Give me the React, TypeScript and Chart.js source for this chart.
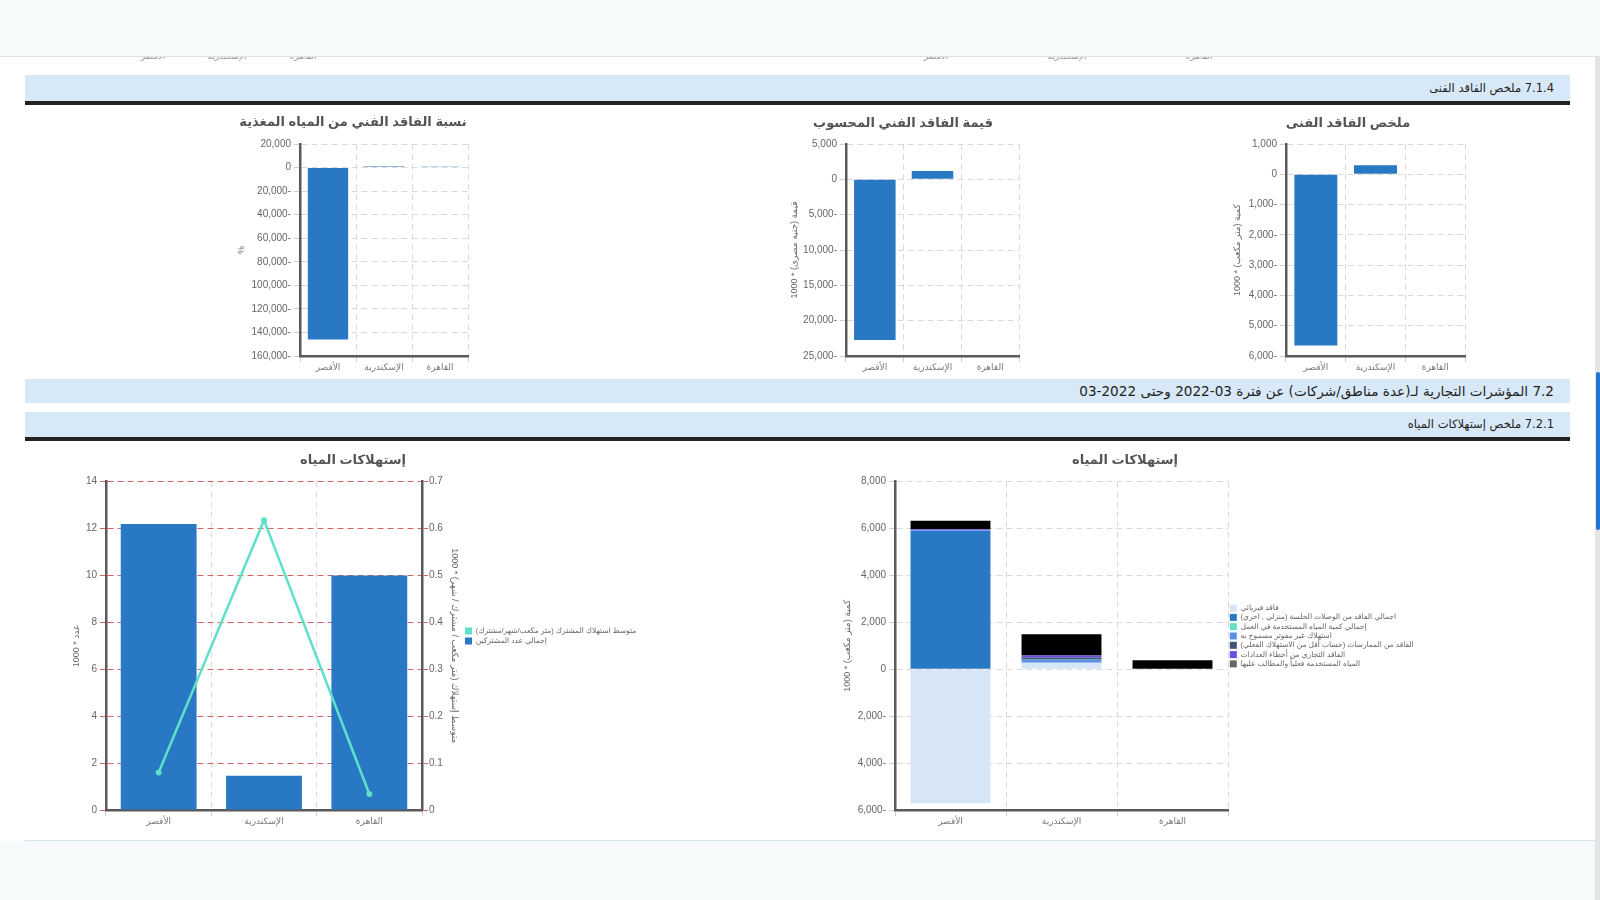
import React, { useEffect, useRef } from 'react';
import { Chart, registerables } from 'chart.js';

Chart.register(...registerables);

const FONT = '"Liberation Sans", "DejaVu Sans", Arial, sans-serif';
Chart.defaults.font.family = FONT;

// Regions on every x axis
const regions = ['الأقصر', 'الإسكندرية', 'القاهرة'];

// 7.1.4 technical loss summary
const lossVolume = [-5650, 300, 0]; // 1000 * m3
const lossValue = [-22740, 1180, 0]; // 1000 * EGP
const lossRatio = [-146000, 800, 700]; // %

// 7.2.1 water consumption: subscribers and average use
const subscriberCount = [12.2, 1.46, 10.0]; // 1000 * subscribers
const avgSubscriberUse = [0.08, 0.618, 0.034]; // 1000 * m3 / subscriber / month

// 7.2.1 water balance components (1000 * m3)
const physicalLoss = [-5710, 280, 0];
const illegalConnectionLoss = [5900, 0, 0];
const workUse = [0, 0, 0];
const unbilledAuthorized = [30, 140, 0];
const practiceLoss = [0, 80, 0];
const meterErrorLoss = [40, 90, 0];
const billedConsumption = [370, 900, 390];

const balanceLabels = [
  'فاقد فيزيائي',
  'اجمالي الفاقد من الوصلات الخلسة (منزلي , اخري)',
  'إجمالي كمية المياه المستخدمة في العمل',
  'استهلاك غير مفوتر مسموح به',
  'الفاقد من الممارسات (حساب أقل من الاستهلاك الفعلي)',
  'الفاقد التجاري من أخطاء العدادات',
  'المياه المستخدمة فعلياً والمطالب عليها',
];

// report period shown in the 7.2 heading (LTR-isolated so the dates keep their order)
const periodFrom = '\u20662022-03\u2069';
const periodTo = '\u206603-2022\u2069';

const BLUE = '#2878c3';
const TURQ = '#5fe0c9';
const AXIS = '#5a5a5a';
const GRID = '#d9d9d9';
const TICK = '#cfcfcf';
const RED_GRID = 'rgba(205, 60, 60, 0.8)';

const balanceColors = ['#d6e6f7', BLUE, TURQ, '#5b90e2', '#3f5478', '#6a4ee0', '#000000'];
const balanceSwatches = ['#d6e6f7', BLUE, TURQ, '#5b90e2', '#3f5478', '#6a4ee0', '#666666'];

// Arabic pages show the minus sign after the number
const fmt = (v: number | string) => {
  const n = Number(v);
  const s = Math.abs(n).toLocaleString('en-US');
  return n < 0 ? s + '-' : s;
};

// Keeps the legend column at a fixed width so the plot area stays put
const legendWidthPlugin = {
  id: 'legendWidth',
  beforeLayout(chart: any, _args: any, opts: any) {
    const legend = chart.legend;
    if (!legend || !opts || !opts.width || legend.__fixedWidth) return;
    const fit = legend.fit.bind(legend);
    legend.fit = () => {
      fit();
      legend.width = opts.width;
    };
    legend.__fixedWidth = true;
  },
};

type YOpts = {
  min: number;
  max: number;
  step: number;
  width: number;
  title: string;
  titlePad: number;
  gridColor?: string;
  position?: 'left' | 'right';
  onChart?: boolean;
  tickPad?: number;
};

function yScale(o: YOpts) {
  return {
    position: o.position ?? 'left',
    min: o.min,
    max: o.max,
    ticks: {
      stepSize: o.step,
      callback: (v: number) => fmt(v),
      color: '#666',
      font: { size: 10 },
      padding: o.tickPad ?? 3,
    },
    grid: {
      color: o.gridColor ?? GRID,
      tickColor: o.gridColor ?? TICK,
      tickLength: 6,
      drawOnChartArea: o.onChart ?? true,
    },
    border: { color: AXIS, width: 2.5, dash: [6, 4] },
    title: {
      display: true,
      text: o.title,
      color: '#666',
      font: { size: 9 },
      padding: { top: o.titlePad, bottom: 0 },
    },
    afterFit: (s: any) => {
      s.width = o.width;
    },
  };
}

function xScale(stacked = false) {
  return {
    stacked,
    ticks: { color: '#777', font: { size: 9 }, padding: 0, maxRotation: 0, autoSkip: false },
    grid: { color: GRID, tickColor: TICK, tickLength: 6 },
    border: { color: AXIS, width: 2.5, dash: [6, 4] },
    afterFit: (s: any) => {
      s.height = 22;
    },
  };
}

function chartTitle(text: string, top: number, bottom: number) {
  return {
    display: true,
    text,
    color: '#555',
    font: { size: 13, weight: 'bold' as const },
    padding: { top, bottom },
  };
}

function lossChart(values: number[], title: string, titleTop: number, titleBottom: number, y: YOpts) {
  return {
    type: 'bar' as const,
    data: { labels: regions, datasets: [{ data: values, backgroundColor: BLUE }] },
    options: {
      responsive: false,
      animation: false as const,
      layout: { padding: { right: 16 } },
      plugins: {
        legend: { display: false },
        tooltip: { enabled: false },
        title: chartTitle(title, titleTop, titleBottom),
      },
      scales: { x: xScale(), y: yScale(y) },
    },
  };
}

const makeLossRatio = () =>
  lossChart(lossRatio, 'نسبة الفاقد الفني من المياه المغذية', 6.2, 14.2, {
    min: -160000,
    max: 20000,
    step: 20000,
    width: 62,
    title: '%',
    titlePad: -1.4,
  });

const makeLossValue = () =>
  lossChart(lossValue, 'قيمة الفاقد الفني المحسوب', 7.2, 13.2, {
    min: -25000,
    max: 5000,
    step: 5000,
    width: 59,
    title: '1000 * قيمة (جنيه مصرى)',
    titlePad: 2.6,
  });

const makeLossVolume = () =>
  lossChart(lossVolume, 'ملخص الفاقد الفنى', 7.2, 13.2, {
    min: -6000,
    max: 1000,
    step: 1000,
    width: 55,
    title: '1000 * كمية (متر مكعب)',
    titlePad: 1.6,
  });

const makeSubscribers = () => ({
  type: 'bar' as const,
  plugins: [legendWidthPlugin],
  data: {
    labels: regions,
    datasets: [
      {
        type: 'line' as const,
        label: 'متوسط استهلاك المشترك (متر مكعب/شهر/مشترك)',
        data: avgSubscriberUse,
        yAxisID: 'y1',
        borderColor: TURQ,
        backgroundColor: TURQ,
        borderWidth: 2.5,
        pointRadius: 3,
        pointBackgroundColor: TURQ,
        pointBorderWidth: 0,
        tension: 0,
      },
      {
        type: 'bar' as const,
        label: 'إجمالي عدد المشتركين',
        data: subscriberCount,
        yAxisID: 'y',
        backgroundColor: BLUE,
      },
    ],
  },
  options: {
    responsive: false,
    animation: false as const,
    plugins: {
      tooltip: { enabled: false },
      title: chartTitle('إستهلاكات المياه', 12.2, 13.9),
      legendWidth: { width: 227.5 },
      legend: {
        position: 'right' as const,
        labels: {
          boxWidth: 7,
          boxHeight: 7,
          padding: 2.5,
          color: '#666',
          font: { size: 7.5 },
          generateLabels: (chart: any) =>
            Chart.defaults.plugins.legend.labels
              .generateLabels(chart)
              .map((l: any) => ({ ...l, lineWidth: 0 })),
        },
      },
    },
    scales: {
      x: xScale(),
      y: yScale({
        min: 0,
        max: 14,
        step: 2,
        width: 90,
        title: '1000 * عدد',
        titlePad: 55.6,
        gridColor: RED_GRID,
      }),
      y1: yScale({
        position: 'right',
        min: 0,
        max: 0.7,
        step: 0.1,
        width: 40.5,
        title: '1000 * متوسط إستهلاك (متر مكعب / مشترك / شهر)',
        titlePad: 3.1,
        gridColor: RED_GRID,
        onChart: false,
        tickPad: 1,
      }),
    },
  },
});

const makeBalance = () => {
  const series = [
    physicalLoss,
    illegalConnectionLoss,
    workUse,
    unbilledAuthorized,
    practiceLoss,
    meterErrorLoss,
    billedConsumption,
  ];
  return {
    type: 'bar' as const,
    plugins: [legendWidthPlugin],
    data: {
      labels: regions,
      datasets: series.map((data, i) => ({
        label: balanceLabels[i],
        data,
        backgroundColor: balanceColors[i],
      })),
    },
    options: {
      responsive: false,
      animation: false as const,
      plugins: {
        tooltip: { enabled: false },
        title: chartTitle('إستهلاكات المياه', 12.2, 13.9),
        legendWidth: { width: 222 },
        legend: {
          position: 'right' as const,
          labels: {
            boxWidth: 7,
            boxHeight: 7,
            padding: 1.8,
            color: '#666',
            font: { size: 7.5 },
            generateLabels: (chart: any) =>
              Chart.defaults.plugins.legend.labels.generateLabels(chart).map((l: any, i: number) => ({
                ...l,
                fillStyle: balanceSwatches[i],
                strokeStyle: balanceSwatches[i],
                lineWidth: 0,
              })),
          },
        },
      },
      scales: {
        x: xScale(true),
        y: {
          ...yScale({
            min: -6000,
            max: 8000,
            step: 2000,
            width: 95,
            title: '1000 * كمية (متر مكعب)',
            titlePad: 42.6,
          }),
          stacked: true,
        },
      },
    },
  };
};

function ChartCanvas({
  left,
  top,
  width,
  height,
  make,
}: {
  left: number;
  top: number;
  width: number;
  height: number;
  make: () => any;
}) {
  const ref = useRef<HTMLCanvasElement>(null);
  useEffect(() => {
    if (!ref.current) return;
    const chart = new Chart(ref.current, make());
    return () => chart.destroy();
  }, []);
  return (
    <div style={{ position: 'absolute', left, top, width, height }}>
      <canvas ref={ref} width={width} height={height} style={{ width, height, display: 'block' }} />
    </div>
  );
}

const HEAD_FONT = '"DejaVu Sans", "Noto Sans", sans-serif';

function SectionBar({
  top,
  height,
  text,
  size,
  rule,
}: {
  top: number;
  height: number;
  text: string;
  size: number;
  rule?: boolean;
}) {
  return (
    <>
      <div
        dir="rtl"
        style={{
          position: 'absolute',
          left: 25,
          top,
          width: 1545,
          height,
          background: '#d7e8f8',
          boxSizing: 'border-box',
          paddingRight: 16,
          fontFamily: HEAD_FONT,
          fontSize: size,
          lineHeight: `${height}px`,
          color: '#1f1f1f',
          whiteSpace: 'nowrap',
        }}
      >
        {text}
      </div>
      {rule && (
        <div style={{ position: 'absolute', left: 25, top: top + height, width: 1545, height: 4, background: '#232323' }} />
      )}
    </>
  );
}

// category label positions of the two charts scrolled above the view
const hiddenAxisGroups = [
  [153, 227, 303],
  [936, 1067, 1199],
];

export default function App() {
  return (
    <div
      style={{
        position: 'absolute',
        left: 0,
        top: 0,
        width: 1600,
        height: 900,
        background: '#ffffff',
        overflow: 'hidden',
        fontFamily: FONT,
      }}
    >
      {hiddenAxisGroups.map((group, g) =>
        group.map((x, i) => (
          <div
            key={`${g}-${i}`}
            style={{
              position: 'absolute',
              left: x - 40,
              top: 51,
              width: 80,
              textAlign: 'center',
              fontSize: 9,
              lineHeight: '11px',
              color: '#9a9a9a',
            }}
          >
            {regions[i]}
          </div>
        ))
      )}
      <div
        style={{
          position: 'absolute',
          left: 0,
          top: 0,
          width: 1600,
          height: 56,
          background: '#f6fafb',
          borderBottom: '1px solid #dfe3e6',
          zIndex: 2,
        }}
      />

      <SectionBar top={75} height={26} text="7.1.4 ملخص الفاقد الفنى" size={11.5} rule />

      <ChartCanvas left={238} top={108} width={246} height={270} make={makeLossRatio} />
      <ChartCanvas left={787} top={108} width={248} height={270} make={makeLossValue} />
      <ChartCanvas left={1231} top={108} width={250} height={270} make={makeLossVolume} />

      <SectionBar
        top={379}
        height={24}
        text={`7.2 المؤشرات التجارية لـ(عدة مناطق/شركات) عن فترة ${periodFrom} وحتى ${periodTo}`}
        size={13.6}
      />
      <SectionBar top={412} height={25} text="7.2.1 ملخص إستهلاكات المياه" size={11.5} rule />

      <ChartCanvas left={16} top={440} width={674} height={392} make={makeSubscribers} />
      <ChartCanvas left={800} top={440} width={650} height={392} make={makeBalance} />

      <div
        style={{
          position: 'absolute',
          left: 0,
          top: 841,
          width: 1600,
          height: 59,
          background: '#f6fafb',
        }}
      />
      <div style={{ position: 'absolute', left: 25, top: 840, width: 1570, height: 1, background: '#d5e5f0' }} />

      <div style={{ position: 'absolute', left: 1595, top: 57, width: 5, height: 843, background: '#e4e4e4' }} />
      <div
        style={{
          position: 'absolute',
          left: 1596,
          top: 372,
          width: 4,
          height: 158,
          background: '#1f74d4',
          borderRadius: 2,
        }}
      />
    </div>
  );
}
